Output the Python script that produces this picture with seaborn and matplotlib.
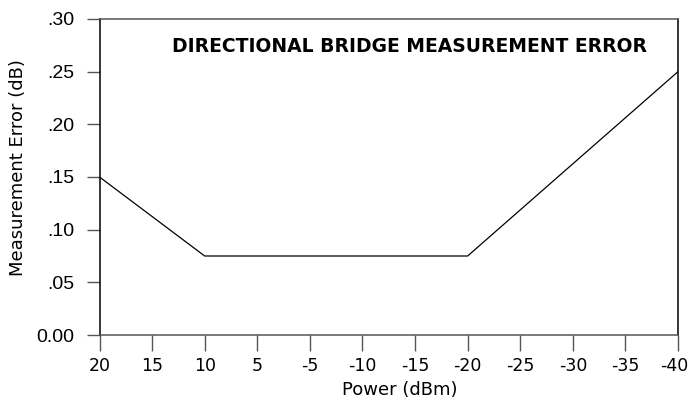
import matplotlib
matplotlib.use("Agg")
import matplotlib.pyplot as plt
import matplotlib.transforms as mtransforms
import seaborn as sns
import pandas as pd

# Measurement error curve of the directional bridge
power_dbm = [20, 10, -20, -40]
error_db = [0.15, 0.075, 0.075, 0.25]

# Printed power scale: evenly spaced marks, no 0 dBm mark
x_tick_labels = ["20", "15", "10", "5", "-5", "-10", "-15", "-20", "-25", "-30", "-35", "-40"]
y_ticks = [0.0, 0.05, 0.10, 0.15, 0.20, 0.25, 0.30]
y_tick_labels = ["0.00", ".05", ".10", ".15", ".20", ".25", ".30"]

sns.set_theme(style="white")
plt.rcParams["font.family"] = ["DejaVu Sans"]
plt.rcParams["text.color"] = "black"
plt.rcParams["axes.labelcolor"] = "black"
plt.rcParams["xtick.labelcolor"] = "black"
plt.rcParams["ytick.labelcolor"] = "black"

# place each power value on the printed (index) scale
scale_pos = {int(lbl): i for i, lbl in enumerate(x_tick_labels)}
df = pd.DataFrame({"pos": [scale_pos[p] for p in power_dbm], "error": error_db})

PX = 72 / 100  # points per pixel

fig = plt.figure(figsize=(6.91, 4.00), dpi=100)
ax = fig.add_axes([99.5 / 691, 65 / 400, (678 - 99.5) / 691, (335 - 19) / 400])

sns.lineplot(data=df, x="pos", y="error", ax=ax, color="black", linewidth=0.9)

ax.set_xlim(0, len(x_tick_labels) - 1)
ax.set_ylim(0, 0.30)

ax.set_xticks(range(len(x_tick_labels)))
ax.set_xticklabels(x_tick_labels)
ax.set_yticks(y_ticks)
ax.set_yticklabels(y_tick_labels)

ax.tick_params(axis="x", direction="out", length=16 * PX, width=1, color="#555555",
               labelsize=12.5, pad=6 * PX, bottom=True, labelcolor="black")
ax.tick_params(axis="y", direction="out", length=13 * PX, width=1, color="#555555",
               labelsize=14, pad=12 * PX, left=True, labelcolor="black")
for lab in ax.get_yticklabels():
    lab.set_family(["Liberation Sans", "DejaVu Sans"])

# keep the last power label inside the figure edge
last = ax.xaxis.get_major_ticks()[-1].label1
last.set_transform(last.get_transform() +
                   mtransforms.ScaledTranslation(-4 / 100, 0, fig.dpi_scale_trans))

for side in ["left", "right"]:
    ax.spines[side].set_color("black")
    ax.spines[side].set_linewidth(1.1)
for side in ["top", "bottom"]:
    ax.spines[side].set_color("#555555")
    ax.spines[side].set_linewidth(1.1)

ax.set_xlabel("Power (dBm)", fontsize=13, va="center", color="black")
ax.xaxis.set_label_coords((400 - 99.5) / 578.5, (335 - 390) / 316)
ax.set_ylabel("Measurement Error (dB)", fontsize=13, va="center", color="black")
ax.yaxis.set_label_coords((18 - 99.5) / 578.5, (335 - 168) / 316)

ax.text((409 - 99.5) / 578.5, (335 - 46) / 316, "DIRECTIONAL BRIDGE MEASUREMENT ERROR",
        transform=ax.transAxes, ha="center", va="center", fontsize=13.5,
        fontweight="bold", color="black")

fig.savefig("out.png", dpi=100)
